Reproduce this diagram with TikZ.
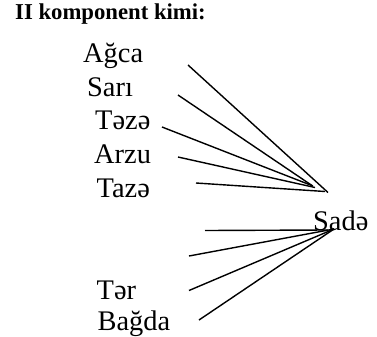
\documentclass[tikz,border=0pt]{standalone}
\usepackage{fontspec}
\setmainfont{Liberation Serif}
\begin{document}
\begin{tikzpicture}[x=1bp,y=-1bp,
  word/.style={anchor=base west,inner sep=0pt,font=\fontsize{28.5}{32}\selectfont},
  ttl/.style={anchor=base west,inner sep=0pt,font=\fontsize{22.8}{27}\selectfont\bfseries},
  ln/.style={line width=1.4bp,black}]
\useasboundingbox (0,0) rectangle (377,337);
\node[ttl] (title) at (15,19) {II komponent kimi:};
\node[word] (w1) at (83,62) {Ağca};
\node[word] (w2) at (87,96) {Sarı};
\node[word] (w3) at (95,129) {Təzə};
\node[word] (w4) at (94,163) {Arzu};
\node[word] (w5) at (96.5,197) {Tazə};
\node[word] (sade) at (313,230) {Sadə};
\node[word] (w6) at (96.5,299) {Tər};
\node[word] (w7) at (97.5,330) {Bağda};
% upper fan
\coordinate (a1) at (188,65);
\coordinate (a2) at (178,95);
\coordinate (a3) at (162,127);
\coordinate (a4) at (178,157);
\coordinate (a5) at (196,183);
\coordinate (p1) at (328,192.5);
\coordinate (p2) at (312,185.5);
\coordinate (p3) at (313,186);
\coordinate (p4) at (315,187.5);
\coordinate (p5) at (325,191.5);
\draw[ln] (a1) -- (p1);
\draw[ln] (a2) -- (p2);
\draw[ln] (a3) -- (p3);
\draw[ln] (a4) -- (p4);
\draw[ln] (a5) -- (p5);
% lower fan
\coordinate (b1) at (205,230.5);
\coordinate (b2) at (189,256);
\coordinate (b3) at (189,290.5);
\coordinate (b4) at (199,320);
\coordinate (q1) at (328,230);
\coordinate (q) at (334,229);
\draw[ln] (b1) -- (q1);
\draw[ln] (b2) -- (q);
\draw[ln] (b3) -- (q);
\draw[ln] (b4) -- (q);
\end{tikzpicture}
\end{document}
